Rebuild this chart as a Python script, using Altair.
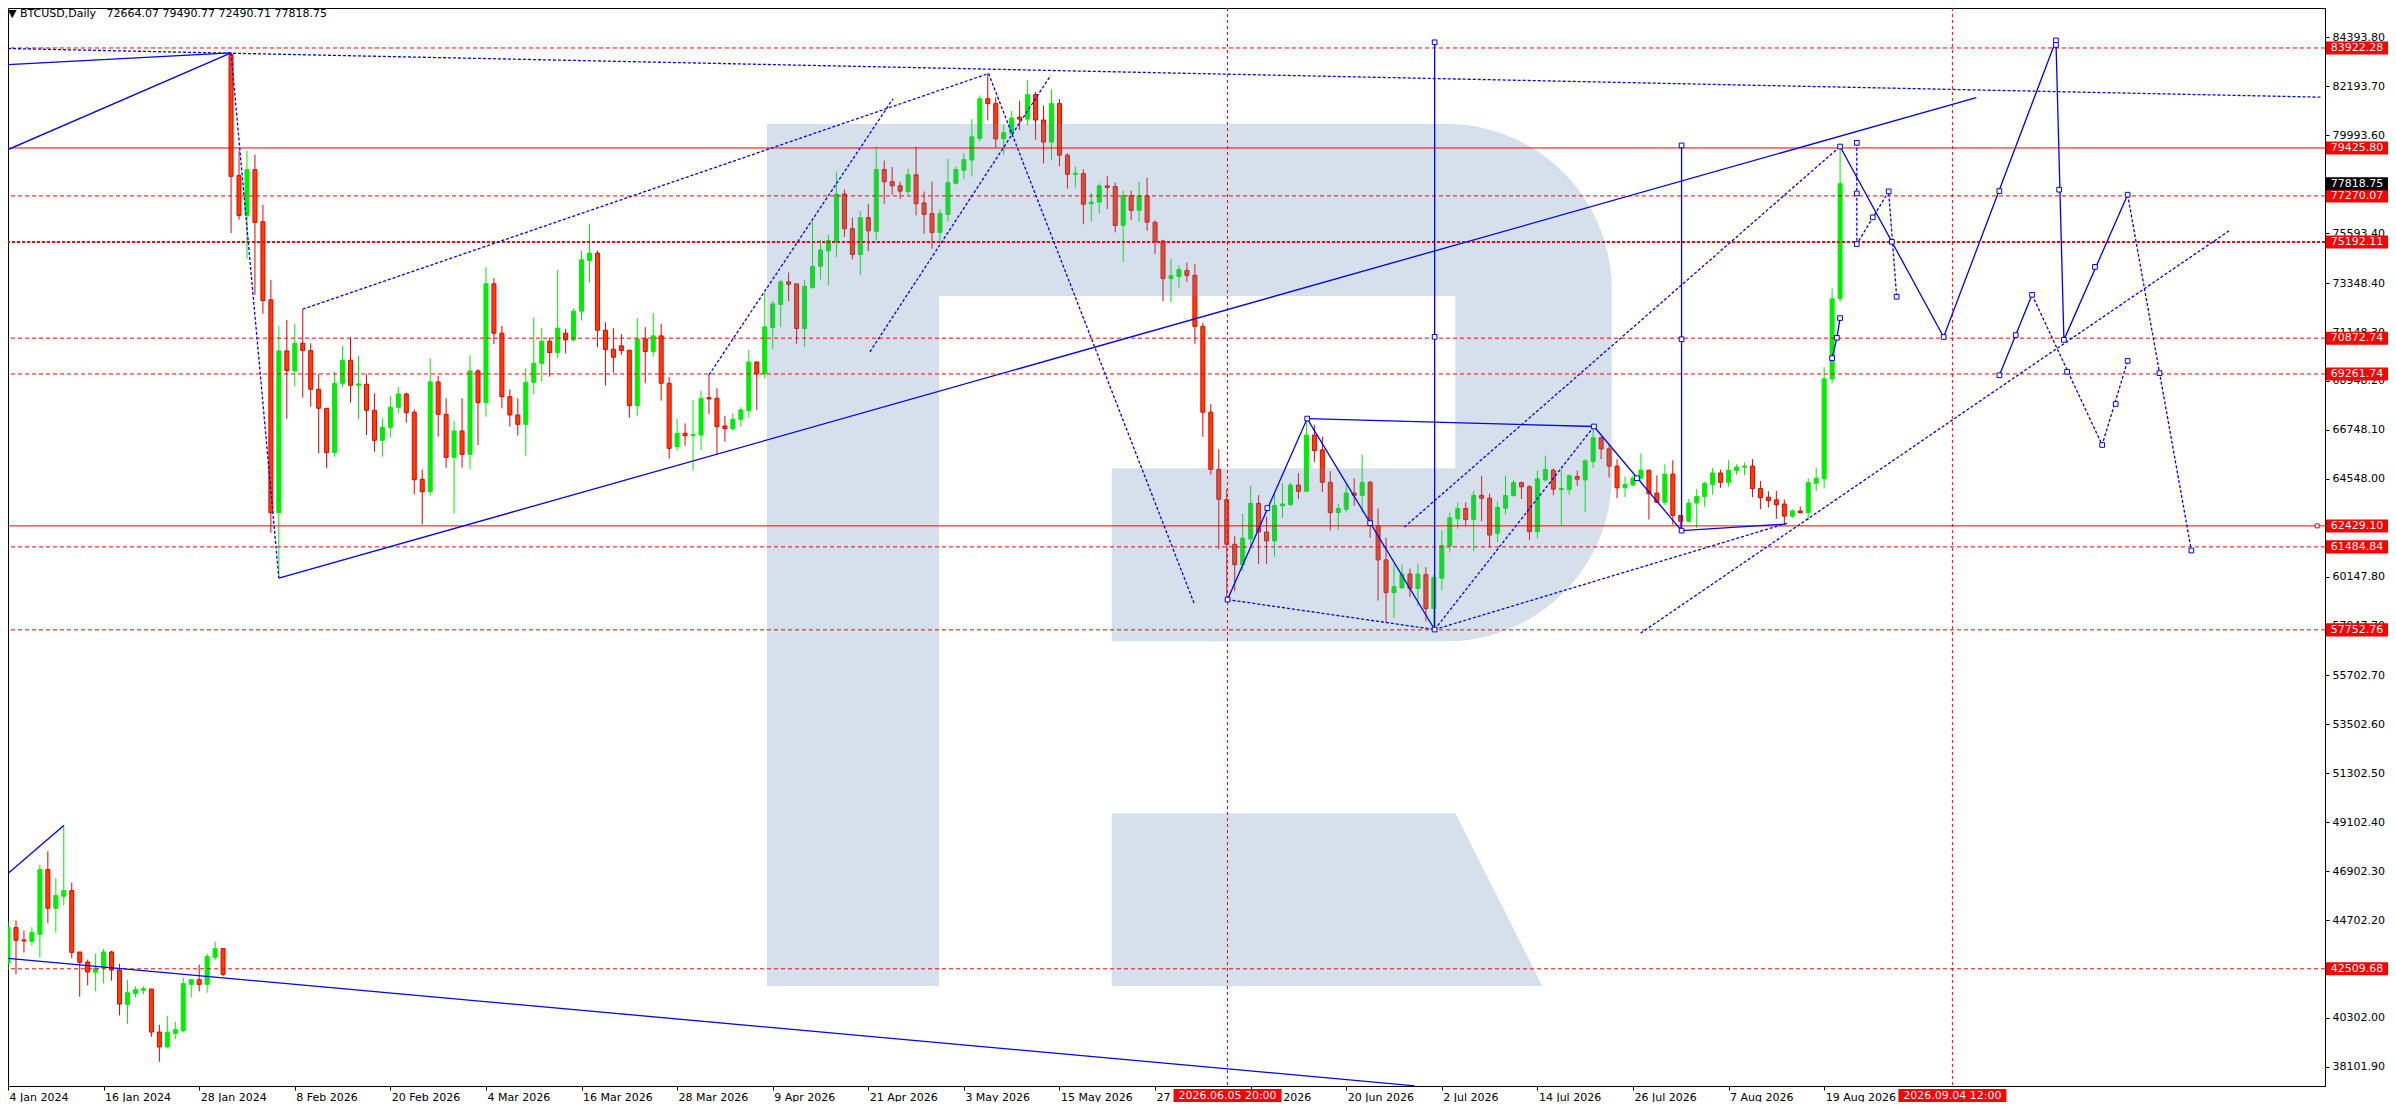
import altair as alt
import pandas as pd

# ---- values (bar index 0 = "4 Jan 2024") ----
opens = [
    42756, 44362, 43807, 43747, 44062, 46974, 45233, 45773, 46028, 43266,
    42816, 42351, 42546, 43266, 42456, 40910, 41405, 41540, 41600, 39664,
    38995, 39604, 39724, 41810, 42020, 41810, 43026, 43416, 83628, 78180,
    76394, 78450, 76108, 72596, 63019, 70299, 69398, 70644, 70314, 68573,
    67718, 65721, 68843, 69878, 68753, 68798, 67627, 66277, 66862, 67762,
    68363, 67537, 64520, 63965, 68903, 67447, 65511, 66697, 65646, 69398,
    67973, 73316, 71095, 68243, 67417, 66997, 68888, 69743, 70734, 70224,
    71095, 70794, 72085, 74367, 74697, 71230, 70374, 70524, 70329, 67838,
    70839, 70269, 70974, 68843, 65991, 66592, 66487, 66517, 68198, 68168,
    66922, 66802, 67222, 67612, 69803, 69268, 71346, 72393, 73404, 73313,
    71309, 73147, 74102, 74801, 75206, 77356, 75794, 74636, 76290, 75665,
    78459, 77908, 77724, 77466, 78220, 76952, 76474, 75628, 76437, 77834,
    78422, 78882, 79856, 81639, 81418, 79837, 80076, 80811, 80720, 81823,
    80683, 79690, 81418, 79102, 78238, 78275, 76915, 76989, 77724, 77687,
    75941, 77282, 76621, 77282, 76088, 75242, 73551, 73643, 73919, 73698,
    71401, 67541, 64968, 63608, 61604, 60685, 61843, 63442, 62155, 61751,
    63334, 63381, 64265, 63986, 66513, 65847, 64389, 63024, 63179, 63908,
    63800, 64389, 62435, 60900, 59427, 59644, 60264, 59613, 60233, 58714,
    60078, 61520, 62745, 63210, 62714, 63800, 63676, 62094, 63226, 63784,
    64374, 64188, 62172, 64498, 64932, 64063, 64063, 64653, 64498, 65320,
    66390, 65893, 65118, 64141, 64265, 64575, 64932, 63908, 63489, 64761,
    62900, 62637, 63458, 63753, 64296, 64808, 64389, 64917, 65071, 65118,
    64110, 63723, 63598, 63412, 62869, 63102, 63024, 64343, 64544, 69040,
    72664.07,
]
highs = [
    44632, 44677, 44227, 44377, 47199, 47799, 46583, 48955, 46388, 43266,
    42921, 43191, 43416, 43326, 42741, 42020, 41720, 41720, 41600, 39993,
    40399, 40129, 42110, 42020, 42696, 43191, 43731, 43416, 83703, 79305,
    79305, 79125, 76874, 73496, 71425, 71695, 71515, 72175, 70644, 69248,
    67718, 69368, 70524, 70914, 70074, 69248, 68393, 67267, 68273, 68663,
    68423, 67672, 64970, 69968, 69173, 68168, 67147, 68168, 70119, 69473,
    74067, 73571, 71425, 68573, 68168, 69518, 71800, 71335, 70899, 73947,
    71290, 72220, 74802, 76018, 74817, 71590, 71320, 71050, 70329, 71770,
    71365, 71995, 71515, 69113, 67237, 67042, 68093, 68513, 69218, 68618,
    67372, 67492, 67762, 70344, 69803, 72908, 72541, 73496, 73827, 73313,
    73496, 76124, 75298, 75518, 78367, 77558, 76290, 76584, 76915, 79488,
    78863, 78569, 77908, 78496, 79488, 77466, 77908, 76658, 78937, 78588,
    79194, 80720, 81786, 82778, 81694, 80481, 81087, 81547, 82465, 81951,
    81326, 82061, 81620, 79194, 78588, 78459, 77393, 77834, 78165, 77871,
    77503, 77503, 77908, 78091, 76161, 75298, 74433, 74139, 74268, 74194,
    71566, 67909, 65868, 64086, 61972, 62983, 64233, 63810, 62835, 63909,
    64343, 64374, 64807, 67273, 66979, 66436, 64885, 63412, 64265, 64575,
    65630, 64451, 63210, 61892, 60698, 60698, 60512, 60729, 60574, 60233,
    62218, 63024, 63490, 63490, 64002, 64684, 63877, 63521, 64684, 64498,
    64420, 64265, 64916, 65583, 65009, 64963, 64730, 64916, 65428, 66932,
    66436, 66048, 65428, 64653, 64730, 65692, 64932, 64699, 65195, 65381,
    62900, 63645, 64079, 64420, 65040, 64963, 65381, 65195, 65273, 65428,
    64451, 63986, 64002, 63614, 63179, 63303, 64575, 65040, 69568, 73103,
    79490.77,
]
lows = [
    42455, 42260, 43236, 43552, 43011, 44557, 44137, 45353, 42981, 41255,
    41765, 41495, 41855, 41975, 40414, 40039, 41225, 41360, 39450, 38329,
    38970, 39349, 39649, 41225, 41495, 41435, 42891, 42170, 75598, 76198,
    74442, 72821, 71966, 62119, 60078, 67237, 68693, 68198, 67793, 65691,
    65016, 65541, 68663, 67973, 67222, 66517, 65766, 65541, 66412, 67492,
    67072, 63844, 62494, 63784, 66442, 65046, 62990, 65046, 64970, 66066,
    67342, 70599, 67718, 66892, 66487, 65586, 68348, 68918, 69143, 69968,
    70194, 70719, 71665, 73376, 70464, 68738, 69323, 70119, 67297, 67387,
    68843, 70044, 68063, 65451, 65811, 66036, 64910, 65841, 67462, 65616,
    66216, 66697, 66892, 67297, 67642, 69048, 70390, 71382, 72541, 70610,
    70463, 73092, 73515, 73239, 74507, 75426, 74415, 73698, 74782, 75261,
    76915, 77319, 77135, 77319, 76400, 75573, 74893, 75242, 76124, 77779,
    78018, 78146, 79709, 80665, 79433, 79121, 80021, 80223, 80444, 79800,
    78734, 78863, 78606, 77595, 77650, 75996, 76124, 76474, 76676, 75628,
    74286, 76180, 76106, 75702, 74654, 72541, 72486, 73147, 73404, 70610,
    66438, 64729, 61384, 59124, 59490, 60409, 61512, 60722, 60722, 61040,
    62792, 63334, 63645, 63955, 65304, 63955, 62218, 62249, 63024, 63334,
    63024, 61892, 59070, 58093, 58295, 59582, 59225, 58838, 58140, 57783,
    59535, 61242, 62296, 62404, 61288, 62637, 61474, 61706, 62947, 63769,
    63645, 61784, 61862, 64420, 63800, 62482, 63831, 64234, 63055, 65040,
    65428, 64606, 63676, 63723, 64234, 64420, 62714, 63458, 63365, 62482,
    62249, 62590, 62327, 63288, 63831, 64141, 64188, 64730, 64699, 63723,
    63179, 63257, 62745, 62528, 62792, 62993, 62683, 63986, 64110, 68839,
    72490.71,
]
closes = [
    44377, 43792, 43762, 44137, 46974, 45233, 45803, 46028, 43251, 42801,
    42366, 42546, 43266, 42456, 40925, 41435, 41570, 41615, 39664, 38995,
    39648, 39769, 41840, 42020, 41810, 43056, 43416, 42260, 78150, 76394,
    78450, 76078, 72566, 63019, 70299, 69413, 70644, 70314, 68573, 67718,
    65721, 68843, 69878, 68753, 68813, 67627, 66277, 66862, 67762, 68363,
    67522, 64505, 63965, 68903, 67447, 65511, 66697, 65646, 69398, 67973,
    73316, 71095, 68243, 67417, 66997, 68888, 69743, 70734, 70224, 71320,
    70794, 72085, 74397, 74697, 71230, 70359, 70013, 70314, 67838, 70839,
    70269, 70974, 68843, 65916, 66592, 66487, 66547, 68168, 68138, 66892,
    66802, 67222, 67642, 69803, 69263, 71382, 72412, 73404, 73294, 71309,
    73202, 74102, 74838, 75261, 77356, 75794, 74636, 76290, 75702, 78459,
    77908, 77724, 77485, 78220, 76915, 76437, 75628, 76474, 77871, 78459,
    78900, 79929, 81639, 81418, 79837, 80113, 80775, 80720, 81823, 80683,
    79690, 81418, 79102, 78238, 78293, 76897, 76989, 77724, 77650, 75941,
    77282, 76621, 77282, 76088, 75206, 73551, 73680, 73956, 73698, 71401,
    67541, 64968, 63626, 61604, 60685, 61880, 63442, 62155, 61751, 63351,
    63412, 64265, 63986, 66513, 65816, 64389, 63024, 63210, 63908, 63800,
    64389, 62637, 60900, 59427, 59690, 60264, 59613, 60264, 58714, 60109,
    61551, 62792, 63210, 62714, 63800, 63676, 62017, 63257, 63800, 64374,
    64188, 62172, 64544, 64963, 64079, 64110, 64684, 64529, 65351, 66390,
    65893, 65118, 64141, 64296, 64575, 64932, 63877, 63489, 64761, 62900,
    62637, 63458, 63753, 64343, 64808, 64389, 64932, 65071, 65118, 64110,
    63692, 63567, 63381, 62869, 63102, 63024, 64374, 64575, 69040, 72638,
    77818.75,
]

x_tick_idx = list(range(0, 229, 12))
x_tick_labels = [
    "4 Jan 2024", "16 Jan 2024", "28 Jan 2024", "8 Feb 2026", "20 Feb 2026",
    "4 Mar 2026", "16 Mar 2026", "28 Mar 2026", "9 Apr 2026", "21 Apr 2026",
    "3 May 2026", "15 May 2026", "27 May 2026", "8 Jun 2026", "20 Jun 2026",
    "2 Jul 2026", "14 Jul 2026", "26 Jul 2026", "7 Aug 2026", "19 Aug 2026",
]
y_tick_values = [
    84393.80, 82193.70, 79993.60, 75593.40, 73348.40, 71148.30, 68948.20,
    66748.10, 64548.00, 60147.80, 57947.70, 55702.70, 53502.60, 51302.50,
    49102.40, 46902.30, 44702.20, 40302.00, 38101.90,
]

levels_solid = [79425.80, 62429.10]
levels_dashed = [83922.28, 77270.07, 70872.74, 69261.74, 61484.84, 57752.76, 42509.68]
levels_thick = [75192.11]
last_price = closes[-1]

vline_idx = [153.1, 244.1]
vline_labels = ["2026.06.05 20:00", "2026.09.04 12:00"]

# trend lines / waves as (bar index, price) points
solid_lines = {
    "tl_flat": [(0, 83178), (28, 83703)],
    "tl_steep": [(0, 79354), (28, 83703)],
    "jan_up": [(0.1, 46825), (7, 48955)],
    "jan_down": [(0, 42980), (176.6, 37248)],
    "trend_up": [(34, 60078), (247.1, 81692)],
    "wave1": [(153.1, 59114), (163.1, 67255), (179.1, 57768)],
    "top_flat": [(163.1, 67255), (199.1, 66900)],
    "wave2": [(199.1, 66900), (210.1, 62216), (223.1, 62509)],
    "v1": [(179.1, 57768), (179.1, 84177)],
    "v2": [(210.1, 62216), (210.1, 79540)],
    "abc": [(229.0, 69974), (229.6, 70889), (230.0, 71776)],
    "fc_main": [(230.0, 79490), (243.0, 70925), (257.1, 84263), (258.1, 70795), (266.1, 77324)],
    "fc_small": [(250.0, 69201), (254.1, 72821)],
}
dashed_lines = {
    "top_ray": [(0, 83898), (290.3, 81710)],
    "drop": [(28, 83703), (34, 60078)],
    "chan_a": [(37, 72175), (123.1, 82773)],
    "chan_b": [(88, 69219), (111.1, 81638)],
    "chan_c": [(108.2, 70255), (130.9, 82687)],
    "fall": [(123.1, 82773), (148.9, 58952)],
    "low_line": [(153.1, 59114), (179.1, 57768)],
    "rise_a": [(179.1, 57768), (223.4, 62554)],
    "rise_i": [(179.1, 57768), (199.1, 66900)],
    "rise_h": [(175.3, 62374), (230.0, 79490)],
    "chan_g": [(204.95, 57601), (278.9, 75717)],
    "fc_d1": [(232.1, 79656), (232.1, 75104), (236.1, 77473), (237.1, 72733)],
    "fc_d2": [(254.1, 72821), (262.9, 66067), (266.1, 69849)],
    "fc_d3": [(266.1, 77324), (274.1, 61321)],
}
markers = [
    (153.1, 59114), (158.1, 63230), (163.1, 67255), (171.0, 62554), (179.1, 57768),
    (179.1, 70930), (179.1, 84177), (199.1, 66900), (204.5, 64576), (210.1, 62216),
    (210.1, 70822), (210.1, 79540), (229.0, 69974), (229.6, 70889), (230.0, 71776),
    (230.0, 79490), (236.5, 75203), (243.0, 70925), (250.0, 77486), (257.1, 84263),
    (257.1, 84060), (257.5, 77550), (258.1, 70795), (262.0, 74077), (266.1, 77324),
    (250.0, 69201), (252.05, 71011), (254.1, 72821), (232.1, 79656), (232.1, 77380),
    (232.1, 75104), (234.1, 76305), (236.1, 77473), (237.1, 72733), (258.5, 69360),
    (262.9, 66067), (264.6, 67911), (266.1, 69849), (270.1, 69300), (274.1, 61321),
]
logo_anchor = (148.31, 61120)

# ---- styling ----
GREEN = "#00ee00"
RED_FILL = "#ff3d00"
RED_LINE = "#e60000"
BLUE = "#0000ff"
FONT = "DejaVu Sans"

LOGO = ("M-0.980,-1L0.597,-1A0.383,0.383 0 0 1 0.980,-0.617L0.980,-0.183"
        "A0.383,0.383 0 0 1 0.597,0.200L-0.180,0.200L-0.180,-0.201L0.617,-0.201"
        "L0.617,-0.601L-0.581,-0.601L-0.581,1L-0.980,1Z"
        "M-0.180,0.599L0.617,0.599L0.819,1L-0.180,1Z")
BOX_R = "M-1,-0.21L1,-0.21L1,0.21L-1,0.21Z"
BOX_B = "M-1,-0.13L1,-0.13L1,0.13L-1,0.13Z"

X_SCALE = alt.Scale(domain=[0.625, 290.25], nice=False, zero=False)
Y_SCALE = alt.Scale(domain=[37238.6, 85720.5], nice=False, zero=False)
label_js = "[" + ",".join(f"'{t}'" for t in x_tick_labels) + "][round(datum.value / 12)]"
X_AXIS = alt.Axis(values=x_tick_idx, labelExpr=label_js, title=None, grid=False,
                  orient="bottom", tickSize=4, labelPadding=1, labelAlign="left",
                  labelBaseline="top", labelOffset=1, labelFlush=False,
                  labelOverlap=False, labelBound=False)
Y_AXIS = alt.Axis(values=y_tick_values, format=".2f", orient="right", title=None,
                  grid=False, tickSize=4, labelPadding=3, labelOverlap=False,
                  labelFlush=False, labelBound=False)


def X(field):
    return alt.X(f"{field}:Q", scale=X_SCALE, axis=X_AXIS)


def Y(field):
    return alt.Y(f"{field}:Q", scale=Y_SCALE, axis=Y_AXIS)


# ---- tables ----
candles = pd.DataFrame({"open": opens, "high": highs, "low": lows, "close": closes})
candles["idx"] = range(len(candles))
candles["up"] = candles["close"] >= candles["open"]
candles["top"] = candles[["open", "close"]].max(axis=1)
candles["bot"] = candles[["open", "close"]].min(axis=1)


def line_table(lines):
    rows = []
    for name, pts in lines.items():
        for k, (i, p) in enumerate(pts):
            rows.append({"name": name, "k": k, "idx": i, "price": p})
    return pd.DataFrame(rows)


up = "datum.up"
wicks = alt.Chart(candles).mark_rule(strokeWidth=1, clip=True).encode(
    x=X("idx"), y=Y("low"), y2="high",
    color=alt.condition(up, alt.value(GREEN), alt.value(RED_LINE)),
)
bodies = alt.Chart(candles).mark_bar(size=4, strokeWidth=1, clip=True).encode(
    x=X("idx"), y=Y("bot"), y2="top",
    fill=alt.condition(up, alt.value(GREEN), alt.value(RED_FILL)),
    stroke=alt.condition(up, alt.value(GREEN), alt.value(RED_LINE)),
)

logo = alt.Chart(pd.DataFrame({"idx": [logo_anchor[0]], "price": [logo_anchor[1]]})).mark_point(
    shape=LOGO, size=862 * 862, filled=True, color="#638cb9", opacity=0.27, strokeWidth=0
).encode(x=X("idx"), y=Y("price"))

lev_solid = alt.Chart(pd.DataFrame({"price": levels_solid})).mark_rule(
    color="#ff0000", strokeWidth=1).encode(y=Y("price"))
lev_dashed = alt.Chart(pd.DataFrame({"price": levels_dashed})).mark_rule(
    color="#ff0000", strokeWidth=1, strokeDash=[4, 3]).encode(y=Y("price"))
lev_thick = alt.Chart(pd.DataFrame({"price": levels_thick})).mark_rule(
    color="#ff0000", strokeWidth=2, strokeDash=[3, 2]).encode(y=Y("price"))
lev_end = alt.Chart(pd.DataFrame({"idx": [289.9], "price": [levels_solid[1]]})).mark_point(
    shape="square", size=16, filled=True, fill="white", stroke="#ff0000", strokeWidth=1, opacity=1
).encode(x=X("idx"), y=Y("price"))

vlines = alt.Chart(pd.DataFrame({"idx": vline_idx, "label": vline_labels})).mark_rule(
    color="#ff0000", strokeWidth=1, strokeDash=[3, 3]).encode(x=X("idx"))

blue_solid = alt.Chart(line_table(solid_lines)).mark_line(
    color=BLUE, strokeWidth=1.3, clip=True).encode(
    x=X("idx"), y=Y("price"), detail="name:N", order="k:Q")
blue_dashed = alt.Chart(line_table(dashed_lines)).mark_line(
    color=BLUE, strokeWidth=1.3, strokeDash=[3, 2], clip=True).encode(
    x=X("idx"), y=Y("price"), detail="name:N", order="k:Q")
squares = alt.Chart(pd.DataFrame(markers, columns=["idx", "price"])).mark_point(
    shape="square", size=22, filled=True, fill="white", stroke=BLUE, strokeWidth=1, opacity=1
).encode(x=X("idx"), y=Y("price"))

# price boxes on the right axis
box_df = pd.DataFrame({"price": levels_dashed + levels_solid + levels_thick})
box_df["label"] = box_df["price"].map(lambda v: f"{v:.2f}")
last_df = pd.DataFrame({"price": [last_price], "label": [f"{last_price:.2f}"]})
red_boxes = alt.Chart(box_df).mark_point(
    shape=BOX_R, size=62 * 62, filled=True, color="#ff0000", opacity=1, strokeWidth=0
).encode(x=alt.value(2349), y=Y("price"))
red_text = alt.Chart(box_df).mark_text(
    font=FONT, fontSize=11, color="white", align="center", baseline="middle"
).encode(x=alt.value(2349), y=Y("price"), text="label:N")
black_box = alt.Chart(last_df).mark_point(
    shape=BOX_R, size=62 * 62, filled=True, color="black", opacity=1, strokeWidth=0
).encode(x=alt.value(2349), y=Y("price"))
black_text = alt.Chart(last_df).mark_text(
    font=FONT, fontSize=11, color="white", align="center", baseline="middle"
).encode(x=alt.value(2349), y=Y("price"), text="label:N")

# date boxes under the time axis
date_df = pd.DataFrame({"idx": vline_idx, "label": vline_labels})
date_boxes = alt.Chart(date_df).mark_point(
    shape=BOX_B, size=108 * 108, filled=True, color="#ff0000", opacity=1, strokeWidth=0
).encode(x=X("idx"), y=alt.value(1088))
date_text = alt.Chart(date_df).mark_text(
    font=FONT, fontSize=11, color="white", align="center", baseline="middle"
).encode(x=X("idx"), y=alt.value(1088), text="label:N")

title = ("\u25bc BTCUSD,Daily\u00a0\u00a0 "
         f"{opens[-1]:.2f} {highs[-1]:.2f} {lows[-1]:.2f} {closes[-1]:.2f}")
title_mark = alt.Chart(pd.DataFrame({"t": [title]})).mark_text(
    font=FONT, fontSize=11, color="black", align="left", baseline="alphabetic"
).encode(x=alt.value(0), y=alt.value(9), text="t:N")

chart = (
    alt.layer(
        wicks, bodies, logo,
        lev_dashed, lev_thick, lev_solid, vlines,
        blue_dashed, blue_solid, squares, lev_end,
        red_boxes, red_text, black_box, black_text,
        date_boxes, date_text, title_mark,
    )
    .properties(
        width=2317, height=1078,
        autosize=alt.AutoSizeParams(type="none"),
        padding={"left": 0, "top": 0, "right": 63, "bottom": 16},
        background="white",
    )
    .configure_view(stroke="black", strokeWidth=1)
    .configure_axis(labelFont=FONT, labelFontSize=11, labelColor="black",
                    domainColor="black", domainWidth=1, tickColor="black", tickWidth=1)
)

chart.save("out.html", embed_options={"renderer": "svg", "actions": False})
